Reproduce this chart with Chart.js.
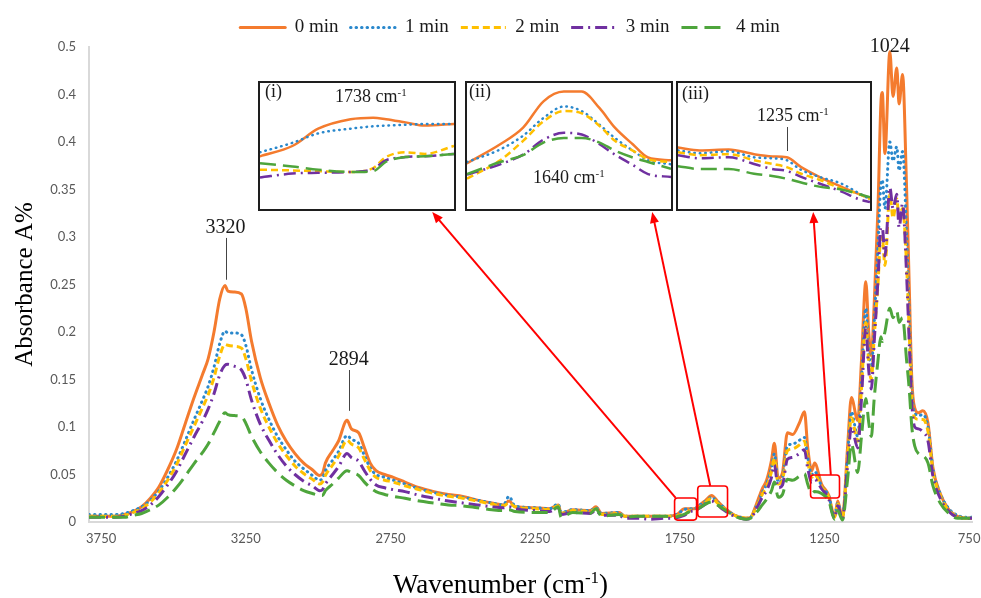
<!DOCTYPE html>
<html>
<head>
<meta charset="utf-8">
<script src="https://cdn.jsdelivr.net/npm/chart.js@4.4.1/dist/chart.umd.min.js"></script>
<style>
html, body { margin: 0; padding: 0; background: #fff; overflow: hidden; }
#wrap { position: relative; width: 981px; height: 598px; }
.inset { position: absolute; box-sizing: border-box; border: 2px solid #1e1e1e; background: #fff; }
.inset canvas { display: block; }
</style>
</head>
<body>
<div id="wrap">
  <canvas id="main" width="981" height="598"></canvas>
</div>
<script>
// FTIR spectra, absorbance vs wavenumber (cm-1), 0-4 min

var seriesNames = ['0 min', '1 min', '2 min', '3 min', '4 min'];

var wavenumbers = [
    3792, 3750, 3700, 3670, 3640, 3610, 3580, 3550, 3520, 3490,
    3460, 3430, 3400, 3380, 3360, 3340, 3322, 3312, 3290, 3265,
    3250, 3230, 3200, 3170, 3140, 3110, 3080, 3050, 3020, 2995,
    2985, 2975, 2950, 2930, 2900, 2885, 2860, 2840, 2820, 2800,
    2770, 2740, 2700, 2650, 2600, 2550, 2500, 2450, 2400, 2360,
    2340, 2320, 2250, 2200, 2170, 2160, 2120, 2060, 2040, 2020,
    1960, 1940, 1900, 1850, 1800, 1770, 1755, 1735, 1715, 1700,
    1680, 1660, 1640, 1620, 1600, 1580, 1560, 1540, 1520, 1505,
    1485, 1465, 1450, 1433, 1423, 1410, 1395, 1378, 1360, 1337,
    1319, 1308, 1294, 1284, 1260, 1235, 1215, 1204, 1188, 1170,
    1157, 1135, 1122, 1107, 1097, 1088, 1078, 1065, 1055, 1050,
    1041, 1024, 1013, 1000, 992, 980, 966, 957, 948, 938,
    925, 910, 892, 875, 850, 820, 790, 757, 740
];

var abs0min = [
    .006, .006, .006, .008, .011, .016, .025, .037, .055, .076,
    .103, .130, .155, .172, .200, .235, .249, .243, .242, .240,
    .225, .190, .152, .125, .102, .085, .072, .062, .055, .049,
    .051, .062, .075, .085, .107, .098, .094, .078, .062, .054,
    .050, .047, .042, .036, .032, .029, .027, .023, .020, .018,
    .022, .016, .015, .014, .018, .009, .013, .012, .016, .009,
    .010, .006, .006, .006, .006, .007, .009, .014, .014, .014,
    .018, .023, .028, .022, .016, .011, .007, .005, .004, .005,
    .019, .035, .044, .065, .083, .046, .052, .094, .092, .104,
    .116, .079, .054, .062, .040, .028, .005, .022, .004, .079,
    .131, .107, .170, .253, .200, .175, .230, .330, .440, .452,
    .388, .495, .448, .478, .440, .471, .350, .250, .150, .120,
    .115, .117, .104, .057, .030, .013, .006, .004, .004
];

var abs1min = [
    .008, .008, .008, .009, .012, .016, .023, .033, .047, .064,
    .085, .107, .128, .143, .163, .188, .201, .199, .199, .197,
    .186, .160, .130, .108, .090, .076, .064, .056, .049, .044,
    .046, .054, .065, .074, .091, .087, .083, .070, .057, .050,
    .047, .044, .040, .035, .031, .028, .026, .023, .020, .018,
    .027, .017, .015, .014, .019, .010, .013, .012, .015, .009,
    .010, .006, .006, .006, .006, .007, .009, .013, .014, .014,
    .018, .022, .026, .021, .016, .011, .007, .005, .004, .005,
    .017, .031, .040, .057, .072, .042, .047, .080, .082, .086,
    .089, .068, .050, .053, .038, .027, .006, .020, .004, .070,
    .116, .090, .150, .225, .180, .160, .210, .290, .355, .360,
    .330, .400, .380, .395, .370, .390, .300, .220, .140, .115,
    .112, .113, .100, .056, .030, .014, .007, .005, .005
];

var abs2min = [
    .006, .006, .006, .007, .010, .014, .021, .031, .044, .060,
    .080, .100, .120, .134, .152, .175, .187, .186, .185, .183,
    .172, .148, .120, .100, .083, .070, .059, .051, .045, .040,
    .042, .049, .060, .069, .086, .082, .078, .066, .054, .047,
    .044, .042, .038, .034, .030, .027, .025, .022, .019, .017,
    .020, .016, .014, .013, .017, .009, .012, .011, .014, .008,
    .009, .006, .006, .006, .006, .006, .007, .008, .012, .013,
    .016, .021, .025, .020, .015, .010, .007, .005, .004, .005,
    .016, .029, .037, .053, .067, .040, .044, .075, .077, .081,
    .085, .064, .047, .050, .037, .026, .005, .019, .004, .066,
    .110, .085, .140, .210, .168, .150, .195, .250, .300, .300,
    .270, .345, .320, .340, .320, .330, .270, .200, .130, .110,
    .108, .108, .095, .053, .028, .012, .006, .004, .004
];

var abs3min = [
    .005, .005, .005, .006, .009, .012, .018, .027, .039, .053,
    .071, .089, .106, .119, .135, .155, .165, .166, .164, .160,
    .150, .128, .103, .086, .071, .059, .050, .043, .038, .033,
    .034, .040, .050, .058, .072, .068, .064, .054, .045, .039,
    .036, .034, .032, .028, .025, .022, .020, .018, .016, .015,
    .016, .014, .012, .011, .015, .008, .010, .009, .012, .007,
    .007, .004, .004, .003, .004, .004, .005, .007, .011, .012,
    .015, .019, .022, .018, .013, .009, .006, .004, .003, .004,
    .014, .026, .033, .047, .060, .036, .039, .066, .068, .072,
    .076, .057, .042, .045, .035, .024, .004, .017, .003, .060,
    .100, .078, .130, .205, .160, .140, .190, .255, .310, .310,
    .280, .352, .330, .345, .310, .335, .260, .190, .125, .100,
    .098, .095, .085, .048, .025, .011, .005, .004, .004
];

var abs4min = [
    .005, .005, .005, .005, .007, .009, .013, .018, .026, .036,
    .048, .061, .073, .082, .094, .106, .115, .113, .112, .111,
    .104, .090, .074, .062, .052, .044, .038, .033, .030, .028,
    .028, .033, .040, .046, .054, .052, .049, .042, .036, .032,
    .029, .027, .025, .022, .020, .018, .017, .015, .013, .012,
    .013, .011, .010, .010, .016, .005, .010, .009, .014, .006,
    .008, .005, .006, .006, .006, .005, .006, .008, .011, .012,
    .015, .019, .021, .018, .014, .010, .006, .004, .003, .004,
    .010, .018, .024, .033, .042, .026, .029, .045, .044, .048,
    .051, .040, .030, .032, .030, .022, .003, .012, .002, .045,
    .082, .052, .090, .130, .105, .090, .130, .170, .195, .190,
    .200, .225, .215, .222, .210, .215, .170, .140, .100, .080,
    .072, .070, .062, .038, .020, .009, .004, .004, .004
];

// inset (i): 1738 cm-1 region, absorbance x 1000
var inset1Wn = [1760, 1750, 1742, 1732, 1725, 1721, 1715, 1709, 1700];
var inset1Abs = [
    [9.35, 10.0, 11.1, 11.7, 11.8, 11.7, 11.5, 11.3, 11.4],
    [9.6, 10.2, 10.8, 11.1, 11.25, 11.3, 11.35, 11.4, 11.4],
    [8.5, 8.45, 8.4, 8.35, 8.6, 9.3, 9.6, 9.5, 10.0],
    [8.0, 8.25, 8.3, 8.35, 8.55, 9.1, 9.3, 9.35, 9.5],
    [8.9, 8.7, 8.5, 8.35, 8.4, 9.0, 9.3, 9.35, 9.5]
];

// inset (ii): 1640 cm-1 region
var inset2Wn = [1680, 1667, 1658, 1650, 1642, 1635, 1628, 1622, 1615, 1609, 1600];
var inset2Abs = [
    [18.0, 21.3, 24.2, 28.8, 30.5, 30.5, 27.6, 24.2, 21.3, 19.0, 18.5],
    [18.2, 20.4, 22.8, 25.9, 27.9, 27.1, 24.7, 22.4, 20.2, 18.5, 17.8],
    [15.3, 18.5, 21.9, 25.3, 27.1, 26.7, 24.5, 21.9, 20.2, 18.7, 18.2],
    [16.0, 17.8, 19.5, 22.1, 23.3, 23.0, 21.3, 19.5, 17.7, 16.1, 15.6],
    [16.1, 18.2, 19.4, 21.6, 22.4, 22.4, 21.6, 20.2, 19.0, 18.2, 17.0]
];

// inset (iii): 1235 cm-1 region
var inset3Wn = [1265, 1259, 1251, 1244, 1239, 1235, 1231, 1226, 1220, 1215, 1212];
var inset3Abs = [
    [39.5, 38.6, 38.9, 37.4, 36.7, 36.4, 33.3, 30.2, 27.1, 24.7, 23.4],
    [38.6, 37.7, 38.3, 36.4, 36.1, 35.5, 32.4, 30.2, 28.1, 25.0, 23.1],
    [38.0, 37.1, 37.4, 35.5, 34.3, 33.3, 31.2, 29.3, 26.5, 24.7, 23.1],
    [37.1, 36.1, 36.4, 34.3, 32.7, 32.1, 30.2, 28.1, 25.6, 23.1, 22.2],
    [33.6, 32.7, 32.7, 31.2, 30.5, 29.6, 28.4, 27.1, 26.2, 24.7, 23.7]
];

var xTickValues = [3750, 3250, 2750, 2250, 1750, 1250, 750];
var yTickValues = [0, 0.05, 0.1, 0.15, 0.2, 0.25, 0.3, 0.35, 0.4, 0.45, 0.5];
var yTickLabels = ['0', '0.05', '0.1', '0.15', '0.2', '0.25', '0.3', '0.35', '0.4', '0.4', '0.5'];

// styles
var colors = ['#F47B2E', '#2A88CC', '#FFC000', '#7030A0', '#4EA53C'];
var dashes = [[], [0.5, 5], [7, 4], [12, 5, 2, 5], [16, 7]];
var caps = ['round', 'round', 'butt', 'butt', 'butt'];
var serif = '"Liberation Serif", "Times New Roman", serif';
var tickFont = { family: 'Lato, "Open Sans", sans-serif', size: 13 };

var peakMarks = [
    { wn: 3320, text: '3320', labelY: 0.304, lineFrom: 0.299, lineTo: 0.255 },
    { wn: 2894, text: '2894', labelY: 0.165, lineFrom: 0.160, lineTo: 0.117 },
    { wn: 1024, text: '1024', labelY: 0.495 }
];

var zoomBoxes = [
    { wnFrom: 1768, wnTo: 1692, yFrom: 0.002, yTo: 0.0253 },
    { wnFrom: 1688, wnTo: 1585, yFrom: 0.0053, yTo: 0.0379 },
    { wnFrom: 1298, wnTo: 1198, yFrom: 0.0253, yTo: 0.0495 }
];

var insetBoxes = [
    { left: 258, top: 81, width: 198, height: 130 },
    { left: 465, top: 81, width: 208, height: 130 },
    { left: 676, top: 81, width: 196, height: 130 }
];

// arrow from a zoom box top edge to an inset bottom edge (fractions along the edges)
var arrows = [
    { box: 0, from: 0.05, inset: 0, to: 0.88 },
    { box: 1, from: 0.42, inset: 1, to: 0.9 },
    { box: 2, from: 0.7, inset: 2, to: 0.7 }
];

function seriesData(xs, ys) {
    return xs.map(function (x, i) { return { x: x, y: ys[i] }; });
}

function makeDatasets(xs, allYs, width) {
    return allYs.map(function (ys, i) {
        return {
            label: seriesNames[i],
            data: seriesData(xs, ys),
            borderColor: colors[i],
            backgroundColor: colors[i],
            borderWidth: width,
            borderDash: dashes[i],
            borderCapStyle: caps[i],
            pointRadius: 0,
            fill: false,
            order: allYs.length - i,
            cubicInterpolationMode: 'monotone'
        };
    });
}

function drawSupText(ctx, parts, x, y, size, align) {
    var small = Math.round(size * 0.62);
    var widths = parts.map(function (p) {
        ctx.font = (p[1] ? small : size) + 'px ' + serif;
        return ctx.measureText(p[0]).width;
    });
    var total = widths.reduce(function (a, b) { return a + b; }, 0);
    var cx = align === 'center' ? x - total / 2 : x;
    ctx.textAlign = 'left';
    ctx.textBaseline = 'alphabetic';
    parts.forEach(function (p, i) {
        ctx.font = (p[1] ? small : size) + 'px ' + serif;
        ctx.fillText(p[0], cx, p[1] ? y - size * 0.36 : y);
        cx += widths[i];
    });
}

function drawArrow(ctx, x1, y1, x2, y2) {
    var ang = Math.atan2(y2 - y1, x2 - x1);
    var head = 11;
    ctx.beginPath();
    ctx.moveTo(x1, y1);
    ctx.lineTo(x2 - Math.cos(ang) * head * 0.8, y2 - Math.sin(ang) * head * 0.8);
    ctx.stroke();
    ctx.beginPath();
    ctx.moveTo(x2, y2);
    ctx.lineTo(x2 - head * Math.cos(ang) + 4.5 * Math.sin(ang), y2 - head * Math.sin(ang) - 4.5 * Math.cos(ang));
    ctx.lineTo(x2 - head * Math.cos(ang) - 4.5 * Math.sin(ang), y2 - head * Math.sin(ang) + 4.5 * Math.cos(ang));
    ctx.closePath();
    ctx.fill();
}

var legendShift = 24;

var marksPlugin = {
    id: 'marks',
    afterLayout: function (chart) {
        chart.legend.left += legendShift;
        chart.legend.right += legendShift;
    },
    afterDatasetsDraw: function (chart) {
        var ctx = chart.ctx;
        var xs = chart.scales.x, ys = chart.scales.y;
        ctx.save();

        // peak labels
        ctx.fillStyle = '#1a1a1a';
        ctx.strokeStyle = '#444';
        ctx.lineWidth = 1;
        ctx.font = '20px ' + serif;
        ctx.textAlign = 'center';
        ctx.textBaseline = 'alphabetic';
        peakMarks.forEach(function (m) {
            var px = xs.getPixelForValue(m.wn);
            ctx.fillText(m.text, px, ys.getPixelForValue(m.labelY));
            if (m.lineFrom !== undefined) {
                ctx.beginPath();
                ctx.moveTo(Math.round(px) + 0.5, ys.getPixelForValue(m.lineFrom));
                ctx.lineTo(Math.round(px) + 0.5, ys.getPixelForValue(m.lineTo));
                ctx.stroke();
            }
        });

        // zoom boxes and arrows
        ctx.strokeStyle = '#FF0000';
        ctx.fillStyle = '#FF0000';
        ctx.lineWidth = 1.6;
        var boxPx = zoomBoxes.map(function (b) {
            var l = xs.getPixelForValue(b.wnFrom), r = xs.getPixelForValue(b.wnTo);
            var t = ys.getPixelForValue(b.yTo), btm = ys.getPixelForValue(b.yFrom);
            ctx.beginPath();
            ctx.roundRect(l, t, r - l, btm - t, 3);
            ctx.stroke();
            return { l: l, r: r, t: t };
        });
        ctx.lineWidth = 2;
        arrows.forEach(function (a) {
            var b = boxPx[a.box], ib = insetBoxes[a.inset];
            drawArrow(ctx, b.l + (b.r - b.l) * a.from, b.t,
                ib.left + ib.width * a.to, ib.top + ib.height + 1);
        });

        // x-axis title with superscript
        ctx.fillStyle = '#000';
        drawSupText(ctx, [['Wavenumber (cm', false], ['-1', true], [')', false]],
            chart.width / 2 + 10, 593, 27, 'center');
        ctx.restore();
    }
};

var mainChart = new Chart(document.getElementById('main'), {
    type: 'line',
    data: { datasets: makeDatasets(wavenumbers, [abs0min, abs1min, abs2min, abs3min, abs4min], 3) },
    options: {
        responsive: false,
        animation: false,
        events: [],
        layout: { padding: { top: 4, right: 9, bottom: 0, left: 0 } },
        plugins: {
            legend: {
                position: 'top',
                labels: {
                    usePointStyle: true,
                    pointStyle: 'line',
                    pointStyleWidth: 45,
                    padding: 12,
                    color: '#1a1a1a',
                    font: { family: serif, size: 19 },
                    sort: function (a, b) { return a.datasetIndex - b.datasetIndex; },
                    generateLabels: function (chart) {
                        var items = Chart.defaults.plugins.legend.labels.generateLabels(chart);
                        items.forEach(function (it) {
                            var ds = chart.data.datasets[it.datasetIndex];
                            it.lineDash = ds.borderDash;
                            it.lineCap = ds.borderCapStyle;
                            it.lineWidth = 3;
                            it.strokeStyle = ds.borderColor;
                            it.pointStyle = 'line';
                        });
                        return items;
                    }
                }
            },
            tooltip: { enabled: false }
        },
        scales: {
            x: {
                type: 'linear',
                reverse: true,
                min: 740,
                max: 3792,
                grid: { display: false, drawTicks: false },
                border: { color: '#D9D9D9', width: 2 },
                ticks: {
                    padding: 9,
                    color: '#595959',
                    font: tickFont,
                    maxRotation: 0,
                    callback: function (v) { return String(v); }
                },
                afterBuildTicks: function (s) {
                    s.ticks = xTickValues.map(function (v) { return { value: v }; });
                },
                afterFit: function (s) {
                    s.height = 76;
                    s.paddingLeft = 0;
                    s.paddingRight = 0;
                }
            },
            y: {
                min: 0,
                max: 0.5,
                grid: { display: false, drawTicks: false },
                border: { color: '#D9D9D9', width: 2 },
                ticks: {
                    padding: 13,
                    color: '#595959',
                    font: tickFont,
                    callback: function (v, i) { return yTickLabels[i]; }
                },
                afterBuildTicks: function (s) {
                    s.ticks = yTickValues.map(function (v) { return { value: v }; });
                },
                afterFit: function (s) {
                    s.width = 89;
                    s.paddingTop = 47;
                    s.paddingBottom = 0;
                },
                title: {
                    display: true,
                    text: 'Absorbance A%',
                    color: '#000',
                    font: { family: serif, size: 25 },
                    padding: { top: 10, bottom: 0 }
                }
            }
        }
    },
    plugins: [marksPlugin]
});

// insets
var insetSpecs = [
    {
        wn: inset1Wn, abs: inset1Abs, min: 6, max: 14,
        texts: [
            { parts: [['(i)', false]], x: 5, y: 14 },
            { parts: [['1738 cm', false], ['-1', true]], x: 75, y: 19 }
        ]
    },
    {
        wn: inset2Wn, abs: inset2Abs, min: 10, max: 32,
        texts: [
            { parts: [['(ii)', false]], x: 2, y: 14 },
            { parts: [['1640 cm', false], ['-1', true]], x: 66, y: 100 }
        ]
    },
    {
        wn: inset3Wn, abs: inset3Abs, min: 20, max: 60,
        texts: [
            { parts: [['(iii)', false]], x: 4, y: 16 },
            { parts: [['1235 cm', false], ['-1', true]], x: 79, y: 38 }
        ],
        tick: { wn: 1235, from: 44, to: 68 }
    }
];

var wrap = document.getElementById('wrap');
insetSpecs.forEach(function (spec, k) {
    var box = insetBoxes[k];
    var div = document.createElement('div');
    div.className = 'inset';
    div.style.left = box.left + 'px';
    div.style.top = box.top + 'px';
    div.style.width = box.width + 'px';
    div.style.height = box.height + 'px';
    var cv = document.createElement('canvas');
    cv.width = box.width - 4;
    cv.height = box.height - 4;
    div.appendChild(cv);
    wrap.appendChild(div);

    var xs = spec.wn;
    new Chart(cv, {
        type: 'line',
        data: { datasets: makeDatasets(xs, spec.abs, 2.5) },
        options: {
            responsive: false,
            animation: false,
            events: [],
            layout: { padding: 0 },
            plugins: { legend: { display: false }, tooltip: { enabled: false } },
            scales: {
                x: { type: 'linear', reverse: true, min: xs[xs.length - 1], max: xs[0], display: false },
                y: { min: spec.min, max: spec.max, display: false }
            }
        },
        plugins: [{
            id: 'insetText',
            afterDraw: function (chart) {
                var ctx = chart.ctx;
                ctx.save();
                ctx.fillStyle = '#1a1a1a';
                spec.texts.forEach(function (t) {
                    drawSupText(ctx, t.parts, t.x, t.y, 18, 'left');
                });
                if (spec.tick) {
                    var px = Math.round(chart.scales.x.getPixelForValue(spec.tick.wn)) + 0.5;
                    ctx.strokeStyle = '#444';
                    ctx.lineWidth = 1;
                    ctx.beginPath();
                    ctx.moveTo(px, spec.tick.from);
                    ctx.lineTo(px, spec.tick.to);
                    ctx.stroke();
                }
                ctx.restore();
            }
        }]
    });
});
</script>
</body>
</html>
